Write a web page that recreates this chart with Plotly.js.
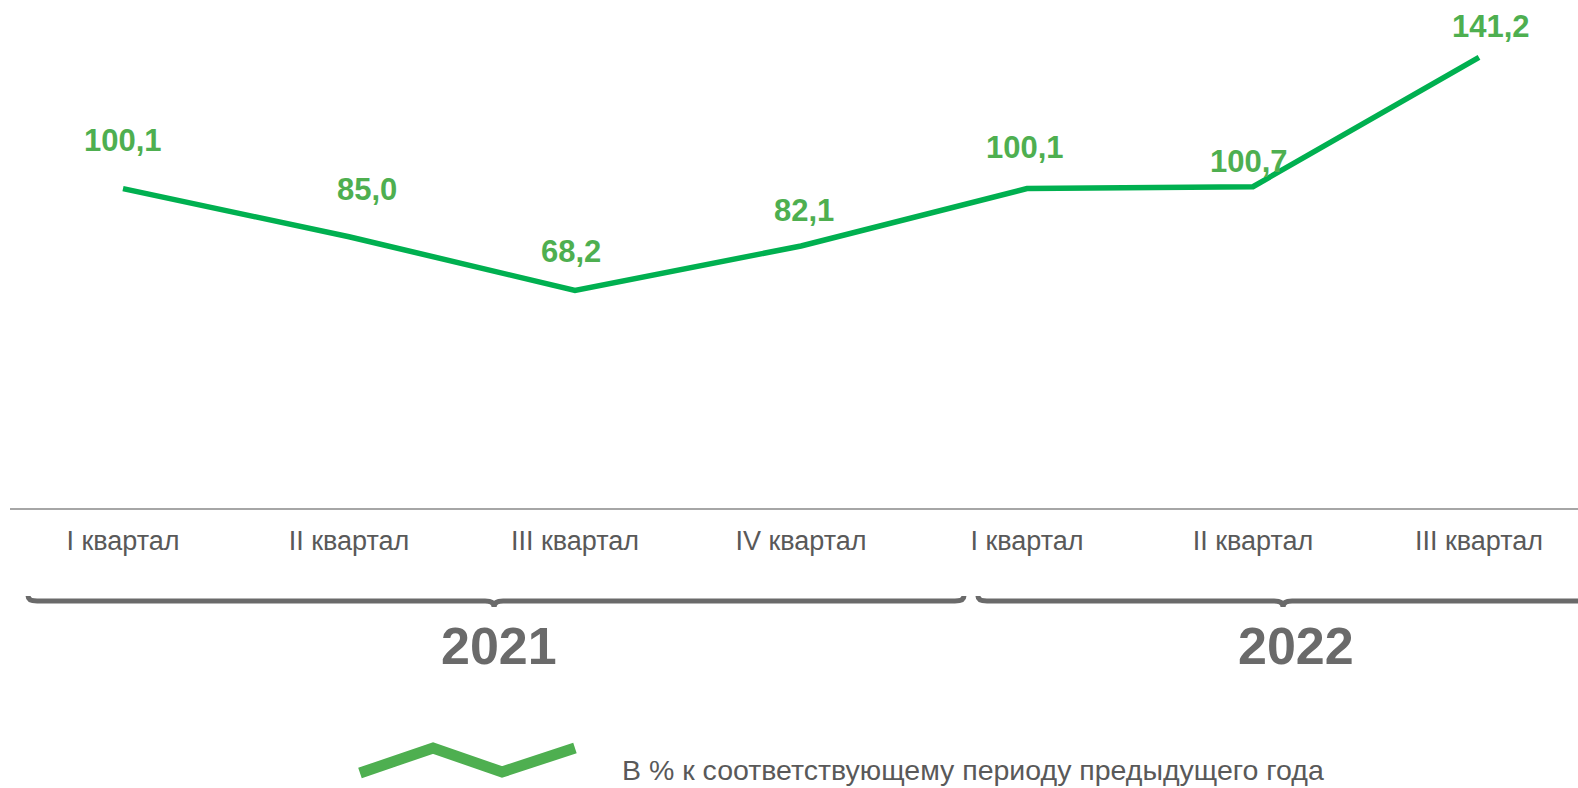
<!DOCTYPE html>
<html>
<head>
<meta charset="utf-8">
<script src="https://cdn.plot.ly/plotly-3.0.1.min.js"></script>
<style>html,body{margin:0;padding:0;background:#fff;}#chart{width:1578px;height:788px;}</style>
</head>
<body>
<div id="chart"></div>
<script>
// ---- data ----
const categories = ['I квартал', 'II квартал', 'III квартал', 'IV квартал', 'I квартал', 'II квартал', 'III квартал'];
const values = [100.1, 85.0, 68.2, 82.1, 100.1, 100.7, 141.2];
const years = ['2021', '2022'];
const seriesName = 'В % к соответствующему периоду предыдущего года';

// ---- label offsets (layout only, px; positive = up) ----
const labelShift = [[0, 48], [18, 47], [-4, 39], [3, 36], [-2, 41], [-4, 25], [12, 31]];

const xIdx = categories.map((c, i) => i);
const fmt = v => v.toFixed(1).replace('.', ',');

const FONT = '"Liberation Sans", Arial, sans-serif';
const GREEN_LINE = '#00B050';
const GREEN_TXT = '#4EAF50';
const GREY = '#595959';

const trace = {
  x: xIdx, y: values, type: 'scatter', mode: 'lines', name: seriesName,
  line: {color: GREEN_LINE, width: 5.5}, hoverinfo: 'skip', showlegend: false
};

const annotations = values.map((v, i) => ({
  x: xIdx[i], y: v, xref: 'x', yref: 'y', text: fmt(v), showarrow: false,
  xanchor: 'center', yanchor: 'middle', xshift: labelShift[i][0], yshift: labelShift[i][1],
  font: {family: FONT, size: 31, color: GREEN_TXT, weight: 'bold'}
}));

// brace geometry (x in category units, y in paper)
const yTop = -0.1732, yBar = -0.1831, yTip = -0.1949;
const braceSpec = [
  {x0: -0.42, xc: 1.642, x1: 3.721, yearX: 1.665},
  {x0: 3.783, xc: 5.133, x1: 6.75, yearX: 5.19}
];
const shapes = [];
braceSpec.forEach((b, k) => {
  const r = 0.04;
  const p = `M ${b.x0},${yTop} Q ${b.x0},${yBar} ${b.x0 + r},${yBar} L ${b.xc - r},${yBar} ` +
    `Q ${b.xc},${yBar} ${b.xc},${yTip} Q ${b.xc},${yBar} ${b.xc + r},${yBar} L ${b.x1 - r},${yBar} ` +
    `Q ${b.x1},${yBar} ${b.x1},${yTop}`;
  shapes.push({type: 'path', xref: 'x', yref: 'paper', path: p, line: {color: '#6a6a6a', width: 5}});
  annotations.push({
    x: b.yearX, y: -0.2717, xref: 'x', yref: 'paper', text: years[k], showarrow: false,
    xanchor: 'center', yanchor: 'middle',
    font: {family: FONT, size: 52, color: '#6a6a6a', weight: 'bold'}
  });
});

// legend icon (zigzag) + text
shapes.push({
  type: 'path', xref: 'paper', yref: 'paper',
  path: 'M 0.2232,-0.5217 L 0.2698,-0.4724 L 0.3138,-0.5197 L 0.3603,-0.4724',
  line: {color: '#4EAF50', width: 11}
});
annotations.push({
  x: 0.389, y: -0.516, xref: 'paper', yref: 'paper', text: seriesName, showarrow: false,
  xanchor: 'left', yanchor: 'middle', font: {family: FONT, size: 28.5, color: GREY}
});

const layout = {
  width: 1578, height: 788,
  margin: {l: 10, r: 0, t: 0, b: 280},
  paper_bgcolor: '#fff', plot_bgcolor: '#fff',
  showlegend: false,
  font: {family: FONT},
  xaxis: {
    range: [-0.5, -0.5 + 1568 / 226], tickmode: 'array', tickvals: xIdx, ticktext: categories,
    showgrid: false, zeroline: false, showline: true, linecolor: '#A6A6A6', linewidth: 2,
    ticks: '', ticklabelstandoff: 8, tickfont: {family: FONT, size: 27, color: GREY}, fixedrange: true
  },
  yaxis: {range: [0, 159.2], visible: false, showgrid: false, zeroline: false, fixedrange: true},
  shapes: shapes,
  annotations: annotations
};

Plotly.newPlot('chart', [trace], layout, {displayModeBar: false, staticPlot: true});
</script>
</body>
</html>
